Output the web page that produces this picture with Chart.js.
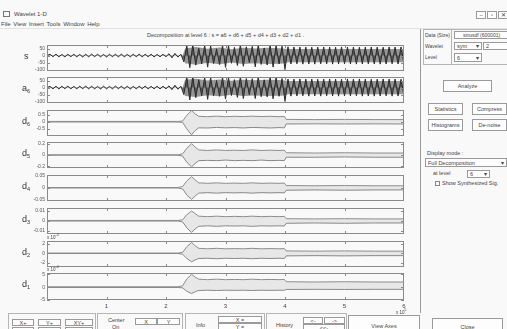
<!DOCTYPE html>
<html>
<head>
<meta charset="utf-8">
<script src="https://cdn.jsdelivr.net/npm/chart.js@4"></script>
<style>
  body { margin: 0; width: 507px; height: 329px; overflow: hidden; background: #f9f9f9;
         font-family: "Liberation Sans", Arial, sans-serif; position: relative; }
  .txt { position: absolute; font-size: 5.5px; color: #444; white-space: nowrap; line-height: 1; }
  .btn { position: absolute; border: 1px solid #9a9a9a; background: #fdfdfd; font-size: 5.5px; color: #444;
         box-sizing: border-box; display: flex; align-items: center; justify-content: center; white-space: nowrap; }
  .frame { position: absolute; border: 1px solid #b5b5b5; box-sizing: border-box; }
  .lbl { position: absolute; font-size: 9px; color: #333; line-height: 1; }
  .lbl sub { font-size: 5.5px; vertical-align: -2px; }
  .pop { justify-content: space-between; padding: 0 2px; }
  canvas { position: absolute; }
</style>
</head>
<body>

<script>
// ===== Data =====
const xTicks = [1, 2, 3, 4, 5, 6];

// s and a6 sampled every 0.05 (x 10^5 samples)
const sStep = 0.05;
const sVals = [
  0, 9, -8, 10, -9, 8, -10, 9, -8, 9,
  -9, 8, -10, 9, -9, 10, -8, 9, -9, 8,
  -10, 9, -8, 9, -9, 10, -9, 8, -9, 9,
  -8, 10, -9, 9, -8, 9, -10, 8, -9, 9,
  -8, 13, -16, 15, -11, 10,
  -45, 70, -86, 76, -68, 52, -60, 73, -82, 69,
  -57, 48, -64, 75, -84, 70, -55, 58, -71, 78,
  -76, 62, -50, 65, -80, 74, -63, 54, -67, 76,
  -82, 71, -60, 66,
  -100, 62, -60, 61, -59, 60, -61, 60, -60, 59,
  -61, 60, -59, 61, -60, 60, -61, 59, -60, 61,
  -59, 60, -60, 61, -61, 59, -60, 60, -59, 61,
  -60, 60, -61, 59, -60, 61, -59, 60, -60, 61, -60
];
const a6Vals = [
  0, 8, -9, 9, -10, 9, -8, 10, -9, 8,
  -9, 9, -8, 10, -9, 9, -9, 8, -10, 9,
  -9, 8, -9, 10, -8, 9, -9, 9, -10, 8,
  -9, 9, -8, 10, -9, 8, -9, 9, -10, 9,
  -9, 12, -15, 16, -12, 10,
  -50, 74, -88, 80, -72, 56, -58, 72, -84, 72,
  -58, 50, -62, 74, -82, 72, -57, 56, -70, 80,
  -78, 64, -52, 63, -78, 76, -65, 55, -66, 75,
  -80, 72, -62, 64,
  -98, 60, -61, 60, -60, 61, -59, 60, -61, 60,
  -60, 59, -61, 60, -59, 61, -60, 60, -61, 59,
  -60, 61, -60, 60, -59, 61, -61, 60, -60, 59,
  -61, 60, -60, 61, -59, 60, -61, 60, -60, 59, -60
];

// dense part of s / a6: the dark band the oscillation fills
const bandX = [2.28, 2.32, 2.5, 2.7, 2.9, 3.1, 3.3, 3.5, 3.7, 3.9, 4.0, 4.05, 6.0];
const sBandUp = [0, 50, 60, 48, 58, 45, 55, 50, 56, 52, 48, 46, 46];
const sBandLo = [0, -55, -66, -52, -62, -50, -60, -55, -60, -58, -55, -48, -48];
const a6BandUp = [0, 55, 62, 50, 58, 48, 56, 52, 56, 54, 50, 46, 46];
const a6BandLo = [0, -60, -68, -54, -62, -52, -60, -56, -60, -58, -56, -48, -48];

// details: upper / lower envelopes at envX
const envX = [0, 2.2, 2.28, 2.35, 2.43, 2.49, 2.55, 2.7, 2.85, 3.0, 3.15, 3.3, 3.45, 3.6, 3.75, 3.9, 3.99, 4.02, 4.5, 5.0, 5.5, 6.0];
const d6Up = [0.02, 0.02, 0.05, 0.45, 0.78, 0.55, 0.38, 0.35, 0.39, 0.35, 0.38, 0.36, 0.39, 0.36, 0.38, 0.35, 0.37, 0.16, 0.15, 0.16, 0.15, 0.15];
const d6Lo = [-0.02, -0.02, -0.05, -0.5, -0.92, -0.62, -0.43, -0.44, -0.4, -0.43, -0.41, -0.44, -0.4, -0.42, -0.44, -0.41, -0.43, -0.16, -0.15, -0.16, -0.15, -0.16];
const d5Up = [0.004, 0.004, 0.02, 0.12, 0.2, 0.14, 0.09, 0.08, 0.09, 0.08, 0.085, 0.08, 0.09, 0.08, 0.085, 0.08, 0.085, 0.04, 0.035, 0.04, 0.035, 0.035];
const d5Lo = [-0.004, -0.004, -0.02, -0.13, -0.21, -0.15, -0.1, -0.095, -0.1, -0.09, -0.1, -0.095, -0.1, -0.09, -0.1, -0.095, -0.1, -0.04, -0.04, -0.035, -0.04, -0.04];
const d4Up = [0.001, 0.001, 0.005, 0.028, 0.045, 0.032, 0.02, 0.018, 0.02, 0.018, 0.019, 0.018, 0.02, 0.018, 0.019, 0.018, 0.019, 0.009, 0.008, 0.009, 0.008, 0.008];
const d4Lo = [-0.001, -0.001, -0.005, -0.03, -0.047, -0.034, -0.022, -0.02, -0.022, -0.02, -0.021, -0.02, -0.022, -0.02, -0.021, -0.02, -0.021, -0.01, -0.009, -0.01, -0.009, -0.009];
const d3Up = [0.0003, 0.0003, 0.001, 0.006, 0.0095, 0.007, 0.0045, 0.004, 0.0045, 0.004, 0.0043, 0.004, 0.0045, 0.004, 0.0043, 0.004, 0.0043, 0.002, 0.0018, 0.002, 0.0018, 0.0018];
const d3Lo = [-0.0003, -0.0003, -0.0012, -0.007, -0.0115, -0.008, -0.0055, -0.005, -0.0055, -0.005, -0.0052, -0.005, -0.0055, -0.005, -0.0052, -0.005, -0.0052, -0.0025, -0.0022, -0.0025, -0.0022, -0.0022];
const d2Up = [0.05, 0.05, 0.2, 1.4, 2.3, 1.6, 1.05, 0.95, 1.05, 0.95, 1.0, 0.95, 1.05, 0.95, 1.0, 0.95, 1.0, 0.5, 0.45, 0.5, 0.45, 0.45];
const d2Lo = [-0.05, -0.05, -0.2, -1.1, -1.8, -1.4, -1.1, -1.05, -1.15, -1.05, -1.1, -1.05, -1.15, -1.05, -1.1, -1.05, -1.1, -0.55, -0.5, -0.55, -0.5, -0.5];
const d1Up = [0.15, 0.15, 0.5, 3.2, 5.0, 3.9, 3.1, 2.9, 3.1, 2.9, 3.0, 2.9, 3.1, 2.9, 3.0, 2.9, 3.0, 2.1, 2.0, 2.1, 2.0, 2.0];
const d1Lo = [-0.15, -0.15, -0.3, -1.6, -2.5, -1.8, -1.3, -1.2, -1.3, -1.2, -1.25, -1.2, -1.3, -1.2, -1.25, -1.2, -1.25, -0.9, -0.85, -0.9, -0.85, -0.85];

// y tick labels per panel
const sTicks = [-100, -50, 0, 50];
const a6Ticks = [-100, -50, 0, 50];
const d6Ticks = [-0.5, 0, 0.5];
const d5Ticks = [-0.2, 0, 0.2];
const d4Ticks = [-0.05, 0, 0.05];
const d3Ticks = [-0.01, 0, 0.01];
const d2Ticks = [-2, 0, 2];
const d1Ticks = [-5, 0, 5];
</script>

<!-- title bar + menu -->
<div class="frame" style="left:3px;top:11px;width:7px;height:6px;border-color:#777"></div>
<div class="txt" style="left:14px;top:11px;font-size:6px">Wavelet 1-D</div>
<div class="btn" style="left:476px;top:11px;width:10px;height:8px">–</div>
<div class="btn" style="left:487px;top:11px;width:10px;height:8px">▫</div>
<div class="btn" style="left:498px;top:11px;width:10px;height:8px">✕</div>
<div class="txt" style="left:1px;top:21px;font-size:6px;word-spacing:1px">File View Insert Tools Window Help</div>
<div style="position:absolute;left:0;top:28px;width:507px;height:1px;background:#e2e2e2"></div>

<div class="txt" style="left:47px;top:33px;width:357px;text-align:center;font-size:5.5px">Decomposition at level 6 : s = a6 + d6 + d5 + d4 + d3 + d2 + d1 .</div>

<!-- right control panel -->
<div style="position:absolute;left:420px;top:29px;width:1px;height:284px;background:#999"></div>
<div class="frame" style="left:423px;top:29px;width:86px;height:36px"></div>
<div style="position:absolute;left:451px;top:29px;width:1px;height:36px;background:#b5b5b5"></div>
<div class="txt" style="left:425px;top:33px;font-size:5px">Data (Size)</div>
<div class="btn" style="left:454px;top:31px;width:55px;height:8px;font-size:5px">sinusdf (600001)</div>
<div class="txt" style="left:425px;top:44px;font-size:5px">Wavelet</div>
<div class="btn pop" style="left:454px;top:42px;width:28px;height:8px"><span>sym</span><span>▾</span></div>
<div class="btn" style="left:483px;top:42px;width:26px;height:8px;justify-content:flex-start;padding-left:2px">2</div>
<div class="txt" style="left:425px;top:55px;font-size:5px">Level</div>
<div class="btn pop" style="left:454px;top:53px;width:28px;height:9px"><span>6</span><span>▾</span></div>

<div class="btn" style="left:443px;top:80px;width:49px;height:12px">Analyze</div>
<div class="btn" style="left:428px;top:103px;width:35px;height:12px">Statistics</div>
<div class="btn" style="left:472px;top:103px;width:35px;height:12px">Compress</div>
<div class="btn" style="left:428px;top:119px;width:35px;height:12px">Histograms</div>
<div class="btn" style="left:472px;top:119px;width:35px;height:12px">De-noise</div>

<div class="txt" style="left:427px;top:151px">Display mode :</div>
<div class="btn pop" style="left:425px;top:158px;width:82px;height:9px"><span>Full Decomposition</span><span>▾</span></div>
<div class="txt" style="left:433px;top:171px">at level</div>
<div class="btn pop" style="left:467px;top:170px;width:23px;height:8px"><span>6</span><span>▾</span></div>
<div class="frame" style="left:435px;top:181px;width:5px;height:5px;border-color:#888"></div>
<div class="txt" style="left:442px;top:181px">Show Synthesized Sig.</div>

<!-- bottom tool frames -->
<div class="frame" style="left:8px;top:313px;width:88px;height:20px"></div>
<div class="btn" style="left:12px;top:319px;width:22px;height:7px">X+</div>
<div class="btn" style="left:38px;top:319px;width:23px;height:7px">Y+</div>
<div class="btn" style="left:65px;top:319px;width:28px;height:7px">XY+</div>
<div class="btn" style="left:12px;top:327px;width:22px;height:7px">X-</div>
<div class="btn" style="left:38px;top:327px;width:23px;height:7px">Y-</div>
<div class="btn" style="left:65px;top:327px;width:28px;height:7px">XY-</div>

<div class="frame" style="left:97px;top:313px;width:86px;height:20px"></div>
<div class="txt" style="left:108px;top:318px">Center</div>
<div class="txt" style="left:112px;top:325px">On</div>
<div class="btn" style="left:135px;top:318px;width:22px;height:7px">X</div>
<div class="btn" style="left:157px;top:318px;width:23px;height:7px">Y</div>

<div class="frame" style="left:185px;top:313px;width:80px;height:20px"></div>
<div class="txt" style="left:196px;top:323px">Info</div>
<div class="btn" style="left:218px;top:316px;width:44px;height:7px">X =</div>
<div class="btn" style="left:218px;top:323px;width:44px;height:7px">Y =</div>

<div class="frame" style="left:266px;top:313px;width:81px;height:20px"></div>
<div class="txt" style="left:276px;top:323px">History</div>
<div class="btn" style="left:303px;top:317px;width:20px;height:7px">&lt;-</div>
<div class="btn" style="left:324px;top:317px;width:21px;height:7px">-&gt;</div>
<div class="btn" style="left:303px;top:324px;width:42px;height:7px">&lt;&lt;-</div>

<div class="btn" style="left:348px;top:315px;width:72px;height:18px;align-items:flex-start;padding-top:7px">View Axes</div>
<div class="btn" style="left:432px;top:318px;width:71px;height:15px;align-items:flex-start;padding-top:5px">Close</div>

<script>
// ===== Panels (layout only) =====
const panels = [
  { name: 's',  sub: '',  top: 44,  min: -110,   max: 75,    ticks: sTicks,  vals: sVals,  bUp: sBandUp,  bLo: sBandLo },
  { name: 'a',  sub: '6', top: 76,  min: -110,   max: 75,    ticks: a6Ticks, vals: a6Vals, bUp: a6BandUp, bLo: a6BandLo },
  { name: 'd',  sub: '6', top: 109, min: -1,     max: 0.82,  ticks: d6Ticks, up: d6Up, lo: d6Lo },
  { name: 'd',  sub: '5', top: 141, min: -0.23,  max: 0.23,  ticks: d5Ticks, up: d5Up, lo: d5Lo },
  { name: 'd',  sub: '4', top: 174, min: -0.054, max: 0.052, ticks: d4Ticks, up: d4Up, lo: d4Lo },
  { name: 'd',  sub: '3', top: 207, min: -0.013, max: 0.0125,ticks: d3Ticks, up: d3Up, lo: d3Lo },
  { name: 'd',  sub: '2', top: 240, min: -2.9,   max: 2.6,   ticks: d2Ticks, up: d2Up, lo: d2Lo, exp: '-3' },
  { name: 'd',  sub: '1', top: 272, min: -5,     max: 5.5,   ticks: d1Ticks, up: d1Up, lo: d1Lo, exp: '-4' }
];
const PH = 28;

// box around each axes + inward tick marks (MATLAB look)
const boxTicks = {
  id: 'boxTicks',
  afterDatasetsDraw(chart) {
    const { ctx, chartArea: a, scales: { x, y } } = chart;
    ctx.save();
    ctx.strokeStyle = '#8a8a8a';
    ctx.lineWidth = 1;
    ctx.strokeRect(a.left + 0.5, a.top + 0.5, a.right - a.left - 1, a.bottom - a.top - 1);
    ctx.beginPath();
    x.ticks.forEach(t => {
      const px = Math.round(x.getPixelForValue(t.value)) + 0.5;
      if (px < a.left + 2 || px > a.right - 2) return;
      ctx.moveTo(px, a.top); ctx.lineTo(px, a.top + 3);
      ctx.moveTo(px, a.bottom); ctx.lineTo(px, a.bottom - 3);
    });
    y.ticks.forEach(t => {
      const py = Math.round(y.getPixelForValue(t.value)) + 0.5;
      ctx.moveTo(a.left, py); ctx.lineTo(a.left + 3, py);
      ctx.moveTo(a.right, py); ctx.lineTo(a.right - 3, py);
    });
    ctx.stroke();
    ctx.restore();
  }
};

panels.forEach((p, i) => {
  const last = i === panels.length - 1;
  const cv = document.createElement('canvas');
  const h = last ? PH + 4 + 16 : PH + 8;
  cv.width = 390; cv.height = h;
  cv.style.left = '20px';
  cv.style.top = (p.top - 4) + 'px';
  document.body.appendChild(cv);

  const lab = document.createElement('div');
  lab.className = 'lbl';
  lab.style.left = (p.sub ? 22 : 24) + 'px';
  lab.style.top = (p.top + PH / 2 - 6) + 'px';
  lab.innerHTML = p.name + (p.sub ? '<sub>' + p.sub + '</sub>' : '');
  document.body.appendChild(lab);

  if (p.exp) {
    const e = document.createElement('div');
    e.className = 'txt';
    e.style.cssText = 'left:47px;top:' + (p.top - 6) + 'px;font-size:4.5px';
    e.innerHTML = 'x 10<sup style="font-size:3.5px">' + p.exp + '</sup>';
    document.body.appendChild(e);
  }

  let datasets;
  if (p.vals) {
    datasets = [
      { data: p.vals.map((v, k) => ({ x: k * sStep, y: v })), order: 0,
        borderColor: '#2a2a2a', borderWidth: 1, pointRadius: 0,
        fill: 'origin', backgroundColor: 'rgba(45,45,45,0.6)' },
      { data: bandX.map((x, k) => ({ x, y: p.bUp[k] })), order: 1, borderWidth: 0,
        pointRadius: 0, fill: '+1', backgroundColor: 'rgba(70,70,70,0.55)' },
      { data: bandX.map((x, k) => ({ x, y: p.bLo[k] })), order: 2, borderWidth: 0,
        pointRadius: 0, fill: false }
    ];
  } else {
    datasets = [
      { data: envX.map((x, k) => ({ x, y: p.up[k] })), borderColor: '#8c8c8c', borderWidth: 1,
        pointRadius: 0, fill: '+1', backgroundColor: 'rgba(0,0,0,0.07)' },
      { data: envX.map((x, k) => ({ x, y: p.lo[k] })), borderColor: '#8c8c8c', borderWidth: 1,
        pointRadius: 0, fill: false }
    ];
  }

  new Chart(cv, {
    type: 'line',
    data: { datasets },
    options: {
      responsive: false, animation: false, devicePixelRatio: 1,
      layout: { padding: { top: 4, bottom: last ? 6 : 4, left: 0, right: 6 } },
      plugins: { legend: { display: false }, tooltip: { enabled: false } },
      scales: {
        x: {
          type: 'linear', min: 0, max: 6,
          afterBuildTicks: ax => { ax.ticks = xTicks.map(v => ({ value: v })); },
          afterFit: ax => { ax.height = last ? 10 : 0; },
          grid: { display: false, drawTicks: false },
          border: { display: false },
          ticks: { display: last, padding: 3, color: '#444', font: { size: 6 }, maxRotation: 0,
                   callback: v => String(v) }
        },
        y: {
          min: p.min, max: p.max,
          afterBuildTicks: ax => { ax.ticks = p.ticks.map(v => ({ value: v })); },
          afterFit: ax => { ax.width = 27; },
          grid: { display: false, drawTicks: false },
          border: { display: false },
          ticks: { padding: 2, color: '#555', font: { size: 5 }, callback: v => String(v) }
        }
      }
    },
    plugins: [boxTicks]
  });
});
</script>
<div class="txt" style="left:396px;top:309px;font-size:4.5px">x 10<sup style="font-size:3.5px">5</sup></div>
</body>
</html>
